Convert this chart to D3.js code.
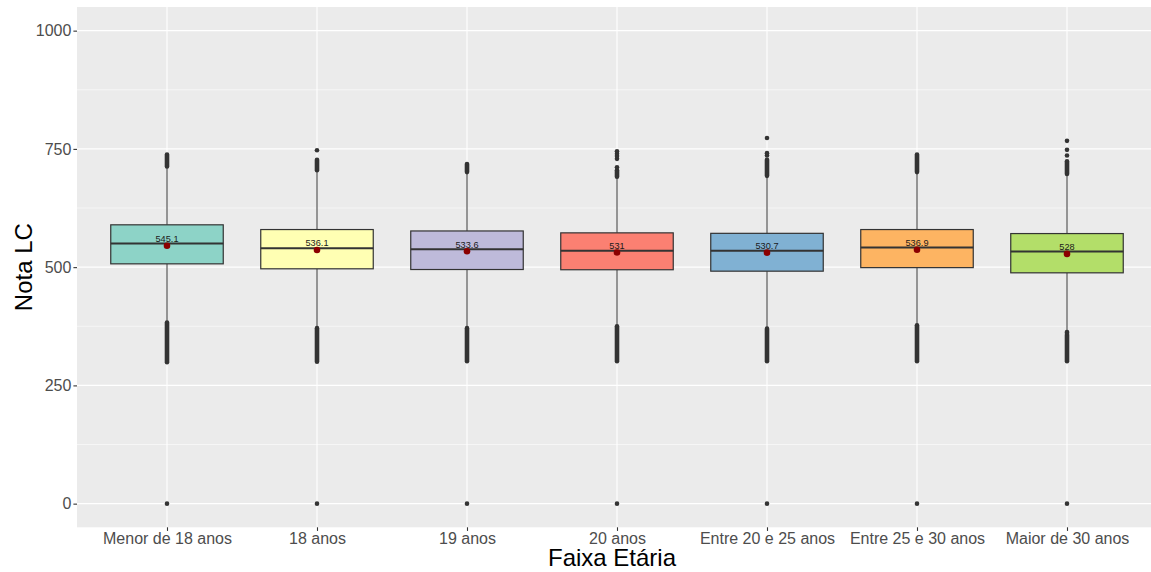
<!DOCTYPE html>
<html>
<head>
<meta charset="utf-8">
<script src="https://cdn.jsdelivr.net/npm/d3@7"></script>
<style>
  html, body { margin: 0; padding: 0; background: #ffffff; }
  svg { display: block; font-family: "Liberation Sans", Arial, Helvetica, sans-serif; }
</style>
</head>
<body>
<svg id="chart" width="1151" height="572"></svg>
<script>
// Age groups and their LC score distributions (box statistics)
const categories = ["Menor de 18 anos", "18 anos", "19 anos", "20 anos",
                    "Entre 20 e 25 anos", "Entre 25 e 30 anos", "Maior de 30 anos"];
const q1          = [507, 496.5, 495, 494.5, 491.5, 499, 488];
const medians     = [550, 540, 538, 534.5, 534.5, 541.5, 533];
const q3          = [589.5, 579.5, 576.5, 572.5, 571.5, 579.5, 571];
const whiskerLow  = [385, 373, 373, 377, 372, 379, 364];
const whiskerHigh = [711, 703, 699, 689, 691, 699, 695];
const means       = [545.1, 536.1, 533.6, 531, 530.7, 536.9, 528];

// Outliers: densely packed runs are given by their extent [low, high]
const lowOutlierRuns  = [[299, 383], [300, 371], [301, 371], [301, 375], [301, 370], [301, 377], [301, 357]];
const highOutlierRuns = [[713, 738], [705, 727], [701, 718], [691, 705], [693, 727], [701, 738], [697, 724]];
// Isolated outliers
const lowOutliers  = [[0], [0], [0], [0], [0], [0], [0, 361, 363]];
const highOutliers = [[], [747], [], [711, 729, 735, 740, 745], [736, 741, 773], [], [736, 748, 767]];

const yTicks      = [0, 250, 500, 750, 1000];
const yMinorTicks = [125, 375, 625, 875];
const fills = ["#8DD3C7", "#FFFFB3", "#BEBADA", "#FB8072", "#80B1D3", "#FDB462", "#B3DE69"];

const panel = { left: 77, right: 1157, top: 7, bottom: 527.3 };

const svg = d3.select("#chart");

const x = d3.scalePoint()
  .domain(categories)
  .range([panel.left, panel.right])
  .padding(0.6);
const step = x.step();
const boxW = step * 0.75;

const y = d3.scaleLinear()
  .domain([-50, 1050])
  .range([panel.bottom, panel.top]);

// Panel background
svg.append("rect")
  .attr("x", panel.left).attr("y", panel.top)
  .attr("width", panel.right - panel.left)
  .attr("height", panel.bottom - panel.top)
  .attr("fill", "#EBEBEB");

// Grid lines
const grid = svg.append("g");
grid.selectAll(".minor").data(yMinorTicks).join("line")
  .attr("x1", panel.left).attr("x2", panel.right)
  .attr("y1", d => y(d)).attr("y2", d => y(d))
  .attr("stroke", "#ffffff").attr("stroke-width", 0.55);
grid.selectAll(".majorY").data(yTicks).join("line")
  .attr("x1", panel.left).attr("x2", panel.right)
  .attr("y1", d => y(d)).attr("y2", d => y(d))
  .attr("stroke", "#ffffff").attr("stroke-width", 1.1);
grid.selectAll(".majorX").data(categories).join("line")
  .attr("x1", d => x(d)).attr("x2", d => x(d))
  .attr("y1", panel.top).attr("y2", panel.bottom)
  .attr("stroke", "#ffffff").attr("stroke-width", 1.1);

const ink = "#333333";
const r = 2.3;

const groups = svg.append("g").selectAll("g")
  .data(categories.map((c, i) => ({ c, i })))
  .join("g");

// Whiskers
groups.append("line")
  .attr("x1", d => x(d.c)).attr("x2", d => x(d.c))
  .attr("y1", d => y(q3[d.i])).attr("y2", d => y(whiskerHigh[d.i]))
  .attr("stroke", ink).attr("stroke-width", 1);
groups.append("line")
  .attr("x1", d => x(d.c)).attr("x2", d => x(d.c))
  .attr("y1", d => y(q1[d.i])).attr("y2", d => y(whiskerLow[d.i]))
  .attr("stroke", ink).attr("stroke-width", 1);

// Dense outlier runs drawn as a stack of overlapping points
groups.selectAll(".run")
  .data(d => [lowOutlierRuns[d.i], highOutlierRuns[d.i]].map(run => ({ run, c: d.c })))
  .join("line")
  .attr("x1", d => x(d.c)).attr("x2", d => x(d.c))
  .attr("y1", d => y(d.run[0])).attr("y2", d => y(d.run[1]))
  .attr("stroke", ink).attr("stroke-width", 2 * r).attr("stroke-linecap", "round");

// Isolated outliers
groups.selectAll(".out")
  .data(d => lowOutliers[d.i].concat(highOutliers[d.i]).map(v => ({ v, c: d.c })))
  .join("circle")
  .attr("cx", d => x(d.c)).attr("cy", d => y(d.v)).attr("r", r)
  .attr("fill", ink);

// Boxes
groups.append("rect")
  .attr("x", d => x(d.c) - boxW / 2)
  .attr("width", boxW)
  .attr("y", d => y(q3[d.i]))
  .attr("height", d => y(q1[d.i]) - y(q3[d.i]))
  .attr("fill", d => fills[d.i])
  .attr("stroke", ink).attr("stroke-width", 1.2);

// Medians
groups.append("line")
  .attr("x1", d => x(d.c) - boxW / 2).attr("x2", d => x(d.c) + boxW / 2)
  .attr("y1", d => y(medians[d.i])).attr("y2", d => y(medians[d.i]))
  .attr("stroke", ink).attr("stroke-width", 2);

// Means
groups.append("circle")
  .attr("cx", d => x(d.c)).attr("cy", d => y(means[d.i])).attr("r", 3.3)
  .attr("fill", "#8B0000");

groups.append("text")
  .attr("x", d => x(d.c)).attr("y", d => y(means[d.i]) - 3.6)
  .attr("text-anchor", "middle")
  .attr("font-size", 9.2)
  .attr("fill", "#1a1a1a")
  .text(d => String(means[d.i]));

// Axes
const yAxis = svg.append("g")
  .attr("transform", `translate(${panel.left},0)`)
  .call(d3.axisLeft(y).tickValues(yTicks).tickSize(3.6).tickPadding(2).tickFormat(d3.format("d")));
yAxis.select(".domain").remove();
yAxis.selectAll(".tick line").attr("stroke", ink).attr("stroke-width", 1.1);
yAxis.selectAll(".tick text").attr("font-size", 16).attr("fill", "#4D4D4D")
  .attr("font-family", "Liberation Sans, Arial, sans-serif");

const xAxis = svg.append("g")
  .attr("transform", `translate(0,${panel.bottom})`)
  .call(d3.axisBottom(x).tickSize(3.6).tickPadding(2));
xAxis.select(".domain").remove();
xAxis.selectAll(".tick line").attr("stroke", ink).attr("stroke-width", 1.1);
xAxis.selectAll(".tick text").attr("font-size", 16).attr("fill", "#4D4D4D")
  .attr("font-family", "Liberation Sans, Arial, sans-serif");

// Axis titles
svg.append("text")
  .attr("x", (panel.left + panel.right) / 2 - 5).attr("y", 566)
  .attr("text-anchor", "middle").attr("font-size", 24).attr("fill", "#000")
  .text("Faixa Etária");

svg.append("text")
  .attr("transform", `translate(31.5,${(panel.top + panel.bottom) / 2}) rotate(-90)`)
  .attr("text-anchor", "middle").attr("font-size", 24).attr("fill", "#000")
  .text("Nota LC");
</script>
</body>
</html>
